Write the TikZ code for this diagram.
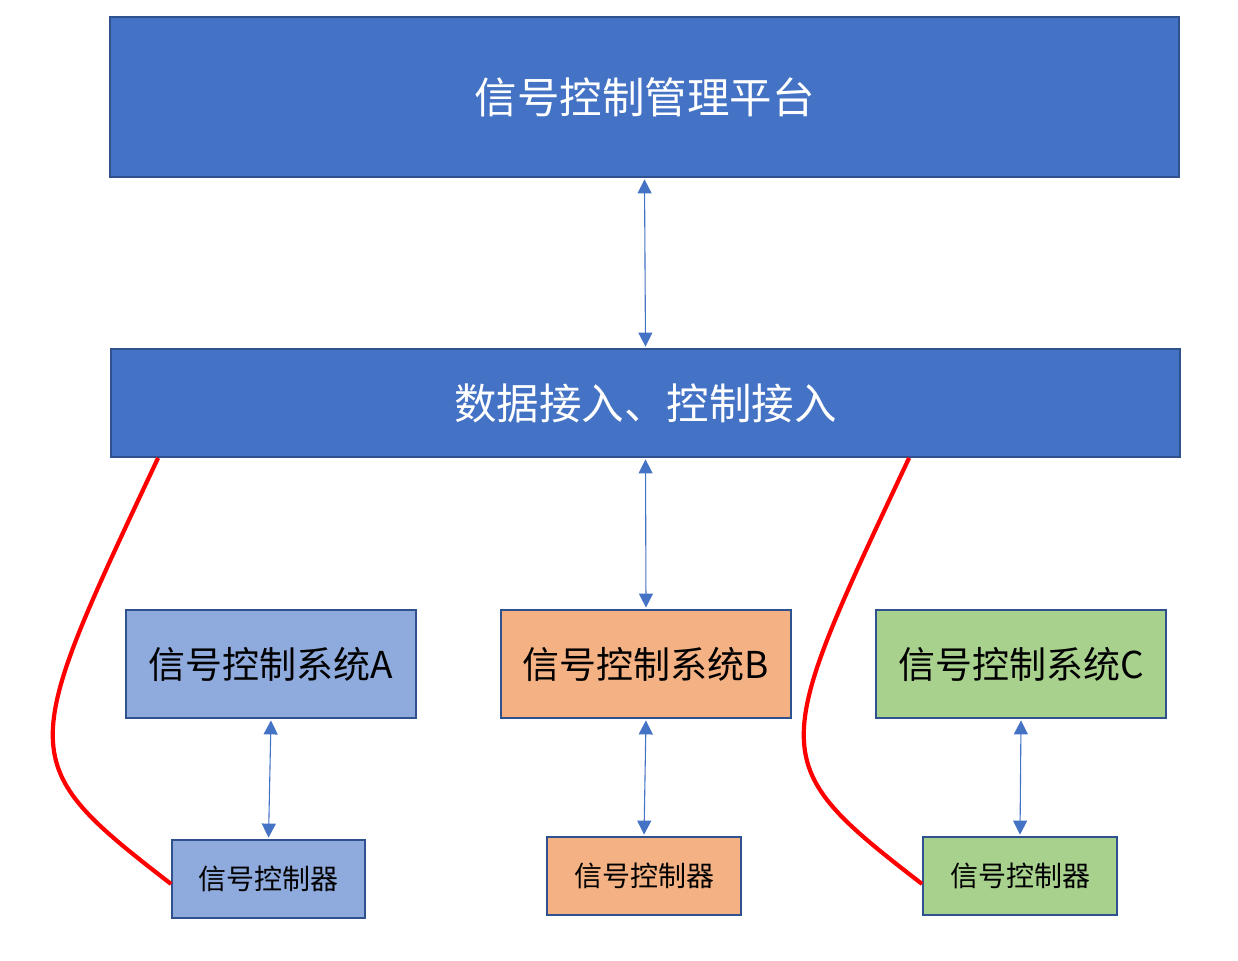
\documentclass[tikz,border=0pt]{standalone}
\usepackage{fontspec}
\newfontfamily\cjk{Noto Sans CJK SC}
\usetikzlibrary{arrows.meta,calc}
\definecolor{darkblue}{HTML}{4472C4}
\definecolor{edgeblue}{HTML}{2F528F}
\definecolor{sysA}{HTML}{8FAADC}
\definecolor{sysB}{HTML}{F4B183}
\definecolor{sysC}{HTML}{A9D18E}
\definecolor{redline}{HTML}{FF0000}
\tikzset{
  box/.style={draw=edgeblue, line width=1.8pt, rectangle, inner sep=0pt, align=center},
  bigbox/.style={box, fill=darkblue, text=white, minimum width=1069pt, font=\cjk\fontsize{42.5}{42.5}\selectfont},
  sysbox/.style={box, text=black, minimum width=290pt, minimum height=108pt, font=\cjk\fontsize{37}{37}\selectfont},
  ctrlbox/.style={box, text=black, minimum width=194pt, minimum height=78pt, font=\cjk\fontsize{28}{28}\selectfont},
  biarrow/.style={draw=darkblue, line width=1.1pt, {Triangle[length=14pt,width=14pt]}-{Triangle[length=14pt,width=14pt]}, shorten <=1.5pt, shorten >=1.5pt},
  redcurve/.style={draw=redline, line width=4.2pt}
}
\begin{document}
\begin{tikzpicture}[x=1pt,y=-1pt]
\useasboundingbox (0,0) rectangle (1238,960);
\node[bigbox, minimum height=160pt] (top) at (644.5,97) {信号控制管理平台};
\node[bigbox, minimum height=108pt] (mid) at (645.5,403) {数据接入、控制接入};
\node[sysbox, fill=sysA] (sa) at (271,664) {信号控制系统A};
\node[sysbox, fill=sysB] (sb) at (646,664) {信号控制系统B};
\node[sysbox, fill=sysC] (sc) at (1021,664) {信号控制系统C};
\node[ctrlbox, fill=sysA, minimum width=193pt] (ca) at (268.5,879) {信号控制器};
\node[ctrlbox, fill=sysB] (cb) at (644,876) {信号控制器};
\node[ctrlbox, fill=sysC] (cc) at (1020,876) {信号控制器};
\draw[biarrow] (top.south) -- (mid.north);
\draw[biarrow] (mid.south) -- (sb.north);
\draw[biarrow] (sa.south) -- (ca.north);
\draw[biarrow] (sb.south) -- (cb.north);
\draw[biarrow] (sc.south) -- (cc.north);
\coordinate (ls) at ([xshift=48pt]mid.south west);
\coordinate (le) at ([yshift=-5pt]ca.west);
\coordinate (rs) at ([xshift=799pt]mid.south west);
\coordinate (re) at ([yshift=-8pt]cc.west);
\draw[redcurve] (ls) .. controls (18,756) and (13,762) .. (le);
\draw[redcurve] (rs) .. controls (769,756) and (764,762) .. (re);
\end{tikzpicture}
\end{document}
